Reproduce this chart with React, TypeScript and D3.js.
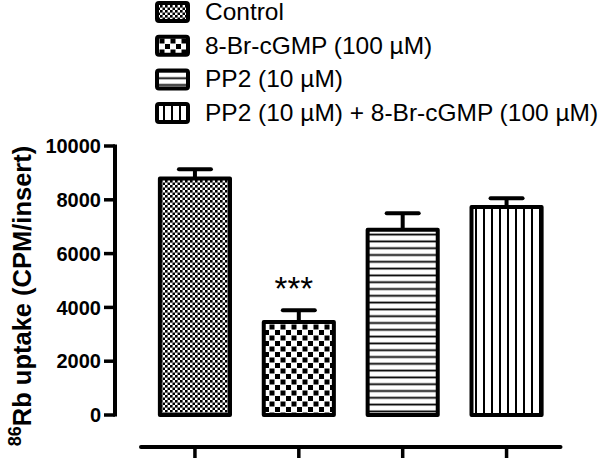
import React from "react";
import * as d3 from "d3";

const categories = [
  "Control",
  "8-Br-cGMP (100 µM)",
  "PP2 (10 µM)",
  "PP2 (10 µM) + 8-Br-cGMP (100 µM)",
];
const means = [8790, 3460, 6890, 7730];
const errors = [345, 435, 610, 325];
const yTicks = [0, 2000, 4000, 6000, 8000, 10000];
const significance = ["", "***", "", ""];
const patternIds = ["pFine", "pCheck", "pHoriz", "pVert"];

const W = 600;
const H = 458;

export default function App() {
  const y = d3.scaleLinear().domain([0, 10000]).range([415, 146]);
  const x = d3
    .scaleBand<string>()
    .domain(categories)
    .range([143, 558.5])
    .paddingInner(0.325)
    .paddingOuter(0.1625);
  const bw = x.bandwidth();
  const axisX = 115;
  const xAxisY = 447;
  const font = "'Liberation Sans', Arial, sans-serif";

  return (
    <svg
      width={W}
      height={H}
      viewBox={`0 0 ${W} ${H}`}
      style={{ position: "absolute", left: 0, top: 0, background: "#fff" }}
    >
      <defs>
        <pattern id="pFine" patternUnits="userSpaceOnUse" width={5} height={5}>
          <rect width={5} height={5} fill="#fff" />
          <rect x={0} y={0} width={2.6} height={2.6} fill="#000" />
          <rect x={2.5} y={2.5} width={2.6} height={2.6} fill="#000" />
        </pattern>
        <pattern id="pCheck" patternUnits="userSpaceOnUse" width={11} height={11}>
          <rect width={11} height={11} fill="#fff" />
          <rect x={0} y={0} width={5} height={5} fill="#000" />
          <rect x={5.5} y={5.5} width={5} height={5} fill="#000" />
        </pattern>
        <pattern id="pHoriz" patternUnits="userSpaceOnUse" width={10} height={6.8}>
          <rect width={10} height={6.8} fill="#fff" />
          <rect x={0} y={2.5} width={10} height={1.8} fill="#000" />
        </pattern>
        <pattern id="pVert" patternUnits="userSpaceOnUse" width={8} height={10}>
          <rect width={8} height={10} fill="#fff" />
          <rect x={3} y={0} width={2} height={10} fill="#000" />
        </pattern>
      </defs>

      {/* Legend */}
      <g fontFamily={font} fontSize={23}>
        {categories.map((c, i) => {
          const cy = 12 + i * 33.7;
          return (
            <g key={c}>
              <rect
                x={157}
                y={cy - 9}
                width={31}
                height={18}
                rx={2}
                fill={`url(#${patternIds[i]})`}
                stroke="#000"
                strokeWidth={4}
              />
              <text
                x={205}
                y={cy + 8}
                fill="#000"
                transform={`translate(205,0) scale(1.065,1) translate(-205,0)`}
              >
                {c}
              </text>
            </g>
          );
        })}
      </g>

      {/* Bars */}
      {categories.map((c, i) => {
        const x0 = x(c)!;
        const cx = x0 + bw / 2;
        const top = y(means[i]);
        const capY = y(means[i] + errors[i]);
        return (
          <g key={c}>
            <line x1={cx} x2={cx} y1={top} y2={capY} stroke="#000" strokeWidth={4} />
            <line
              x1={cx - 16}
              x2={cx + 16}
              y1={capY}
              y2={capY}
              stroke="#000"
              strokeWidth={4}
              strokeLinecap="round"
            />
            <rect
              x={x0}
              y={top}
              width={bw}
              height={y(0) - top}
              fill={`url(#${patternIds[i]})`}
              stroke="#000"
              strokeWidth={4}
              strokeLinejoin="round"
            />
            {significance[i] && (
              <text
                x={cx - 5}
                y={capY - 10}
                textAnchor="middle"
                fontFamily={font}
                fontSize={33}
                fill="#000"
              >
                {significance[i]}
              </text>
            )}
          </g>
        );
      })}

      {/* Y axis */}
      <line
        x1={axisX}
        x2={axisX}
        y1={y(10000) - 1.5}
        y2={y(0) + 1.5}
        stroke="#000"
        strokeWidth={4}
      />
      {yTicks.map((t) => (
        <g key={t}>
          <line x1={axisX - 11} x2={axisX} y1={y(t)} y2={y(t)} stroke="#000" strokeWidth={3.5} />
          <text
            x={axisX - 14}
            y={y(t)}
            dy="0.36em"
            textAnchor="end"
            fontFamily={font}
            fontWeight="bold"
            fontSize={20}
            fill="#000"
          >
            {t}
          </text>
        </g>
      ))}

      {/* Y title */}
      <text
        transform={`translate(31,${296}) rotate(-90)`}
        textAnchor="middle"
        fontFamily={font}
        fontWeight="bold"
        fontSize={25.5}
        fill="#000"
      >
        <tspan fontSize={18} dy={-10}>86</tspan>
        <tspan dy={10}>Rb uptake (CPM/insert)</tspan>
      </text>

      {/* X axis */}
      <line
        x1={x.range()[0] - 2}
        x2={x.range()[1] + 2}
        y1={xAxisY}
        y2={xAxisY}
        stroke="#000"
        strokeWidth={4}
        strokeLinecap="round"
      />
      {categories.map((c) => {
        const cx = x(c)! + bw / 2;
        return (
          <line
            key={c}
            x1={cx}
            x2={cx}
            y1={xAxisY}
            y2={xAxisY + 11}
            stroke="#000"
            strokeWidth={3.5}
          />
        );
      })}
    </svg>
  );
}
